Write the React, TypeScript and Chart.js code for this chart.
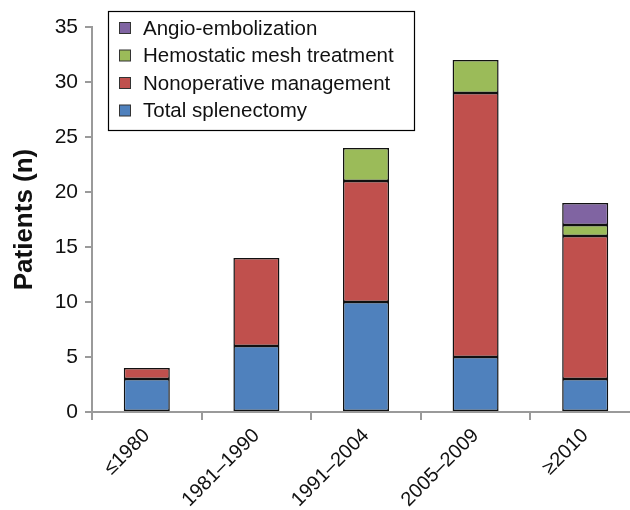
import React, { useEffect, useRef } from "react";
import { Chart, registerables } from "chart.js";

Chart.register(...registerables);

const categories = ["≤1980", "1981–1990", "1991–2004", "2005–2009", "≥2010"];
const totalSplenectomy = [3, 6, 10, 5, 3];
const nonoperative = [1, 8, 11, 24, 13];
const hemostaticMesh = [0, 0, 3, 3, 1];
const angioEmbolization = [0, 0, 0, 0, 2];
const yTicks = [0, 5, 10, 15, 20, 25, 30, 35];

const FONT = "'Liberation Sans', Arial, Helvetica, sans-serif";

const legendBoxPlugin = {
  id: "legendBox",
  afterDraw(chart: any) {
    const ctx = chart.ctx;
    const ds = chart.data.datasets.slice().reverse();
    ctx.save();
    const x = 108, y = 11, w = 306, h = 119;
    ctx.fillStyle = "#ffffff";
    ctx.fillRect(x, y, w, h);
    ctx.strokeStyle = "#000000";
    ctx.lineWidth = 1.2;
    ctx.strokeRect(x + 0.5, y + 0.5, w, h);
    ctx.font = `20.5px ${FONT}`;
    ctx.textBaseline = "middle";
    ctx.textAlign = "left";
    ds.forEach((d: any, i: number) => {
      const cy = 28 + i * 27.5;
      ctx.fillStyle = d.backgroundColor;
      ctx.fillRect(119, cy - 5.5, 11, 11);
      ctx.strokeStyle = "#333333";
      ctx.lineWidth = 1;
      ctx.strokeRect(119.5, cy - 5.5, 11, 11);
      ctx.fillStyle = "#111111";
      ctx.fillText(d.label, 143, cy + 1);
    });
    ctx.restore();
  },
};

export default function App() {
  const ref = useRef<HTMLCanvasElement>(null);
  useEffect(() => {
    document.body.style.margin = "0";
    const chart = new Chart(ref.current!, {
      type: "bar",
      data: {
        labels: categories,
        datasets: [
          { label: "Total splenectomy", data: totalSplenectomy, backgroundColor: "#4F81BD" },
          { label: "Nonoperative management", data: nonoperative, backgroundColor: "#C0504D" },
          { label: "Hemostatic mesh treatment", data: hemostaticMesh, backgroundColor: "#9BBB59" },
          { label: "Angio-embolization", data: angioEmbolization, backgroundColor: "#8064A2" },
        ].map((d) => ({
          ...d,
          borderColor: "#111111",
          borderWidth: 1.5,
          borderSkipped: false,
          barPercentage: 0.42,
          categoryPercentage: 1,
        })),
      },
      options: {
        animation: false,
        responsive: false,
        maintainAspectRatio: false,
        layout: { padding: { top: 27, right: 0, left: 0, bottom: 0 } },
        plugins: { legend: { display: false }, tooltip: { enabled: false } },
        scales: {
          x: {
            stacked: true,
            afterFit: (s: any) => { s.height = 98; },
            grid: { display: true, drawOnChartArea: false, drawTicks: true, tickLength: 8, color: "#9a9a9a", lineWidth: 2, offset: true },
            border: { display: true, color: "#9a9a9a", width: 2 },
            ticks: { color: "#111111", font: { family: FONT, size: 20 }, minRotation: 45, maxRotation: 45, padding: 4 },
          },
          y: {
            stacked: true,
            min: 0,
            max: 35,
            afterFit: (s: any) => { s.width = 92; },
            afterBuildTicks: (s: any) => { s.ticks = yTicks.map((v) => ({ value: v })); },
            grid: { display: true, drawOnChartArea: false, drawTicks: true, tickLength: 7, color: "#9a9a9a", lineWidth: 2 },
            border: { display: true, color: "#9a9a9a", width: 2 },
            ticks: { color: "#111111", font: { family: FONT, size: 21 }, padding: 7 },
            title: { display: true, text: "Patients (n)", color: "#111111", font: { family: FONT, size: 26, weight: "bold" }, padding: { top: 9, bottom: 0 } },
          },
        },
      },
      plugins: [legendBoxPlugin],
    } as any);
    return () => chart.destroy();
  }, []);
  return (
    <div style={{ width: 630, height: 510, overflow: "hidden", position: "relative" }}>
      <canvas ref={ref} width={640} height={510} style={{ display: "block", width: 640, height: 510 }} />
    </div>
  );
}
